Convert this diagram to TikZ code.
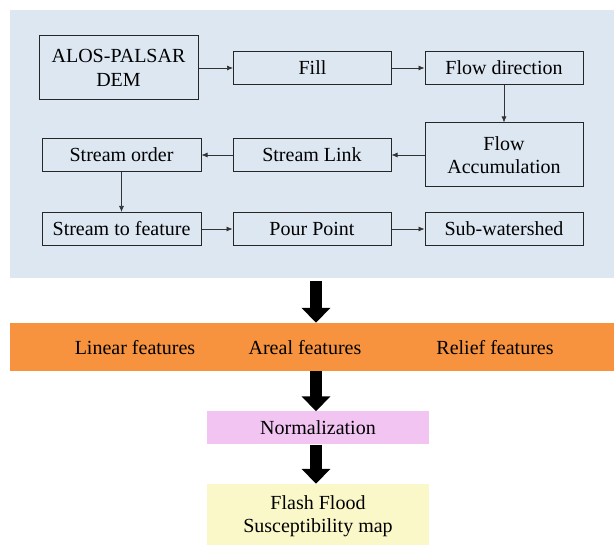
\documentclass[tikz,border=0pt]{standalone}
\usepackage{fontspec}
\setmainfont{Liberation Serif}
\newfontfamily\tnr{Liberation Serif}
\usetikzlibrary{arrows.meta}
\definecolor{bgblue}{HTML}{DDE7F2}
\definecolor{bandorange}{HTML}{F7923F}
\definecolor{normpink}{HTML}{F2C4F2}
\definecolor{mapyellow}{HTML}{FAF8C9}
\begin{document}
\begin{tikzpicture}[x=1pt,y=-1pt,
  every node/.style={font=\tnr\fontsize{20}{23.5}\selectfont, align=center, inner sep=0pt},
  procbox/.style={draw=black!85, line width=1pt, minimum width=158pt, minimum height=33pt},
  tallbox/.style={procbox, minimum height=64pt},
  flow/.style={draw=black!80, line width=0.7pt, -{Latex[length=6pt,width=5pt]}},
  bigarrow/.style={draw=black, line width=12pt, -{Triangle[width=28pt,length=15pt]}}
]
\useasboundingbox (0,0) rectangle (614,545);
\fill[white] (0,0) rectangle (614,545);
% backgrounds
\node[fill=bgblue, minimum width=604pt, minimum height=268pt] (bg) at (312,144) {};
\node[fill=bandorange, minimum width=604pt, minimum height=48pt] (band) at (312,347) {};
\node[fill=normpink, minimum width=222pt, minimum height=33pt] (norm) at (318,428) {Normalization};
\node[fill=mapyellow, minimum width=222pt, minimum height=64pt] (map) at (318,516) {Flash Flood\\Susceptibility map};
% band labels
\node (lin) at (135,348) {Linear features};
\node (are) at (305,348) {Areal features};
\node (rel) at (495,348) {Relief features};
% process boxes
\node[tallbox, minimum width=159pt] (dem) at (118.5,68) {ALOS-PALSAR\\DEM};
\node[procbox] (fill) at (312.5,68) {Fill};
\node[procbox] (fdir) at (504,68) {Flow direction};
\node[tallbox] (facc) at (504,155) {Flow\\Accumulation};
\node[procbox] (slink) at (312,155) {Stream Link};
\node[procbox, minimum width=159pt] (sord) at (121.5,155) {Stream order};
\node[procbox, minimum width=159pt] (stf) at (121.5,229) {Stream to feature};
\node[procbox] (pour) at (312,229) {Pour Point};
\node[procbox] (sub) at (504,229) {Sub-watershed};
% connectors
\draw[flow] (dem) -- (fill);
\draw[flow] (fill) -- (fdir);
\draw[flow] (fdir) -- (facc);
\draw[flow] (facc.west |- slink) -- (slink);
\draw[flow] (slink) -- (sord);
\draw[flow] (sord) -- (stf);
\draw[flow] (stf) -- (pour);
\draw[flow] (pour) -- (sub);
% big arrows
\coordinate (a1s) at (316,281);
\draw[bigarrow] (a1s) -- (a1s |- band.north);
\draw[bigarrow] (band.south -| 316,0) -- (norm.north -| 316,0);
\draw[bigarrow] (norm.south -| 316,0) -- (map.north -| 316,0);
\end{tikzpicture}
\end{document}
